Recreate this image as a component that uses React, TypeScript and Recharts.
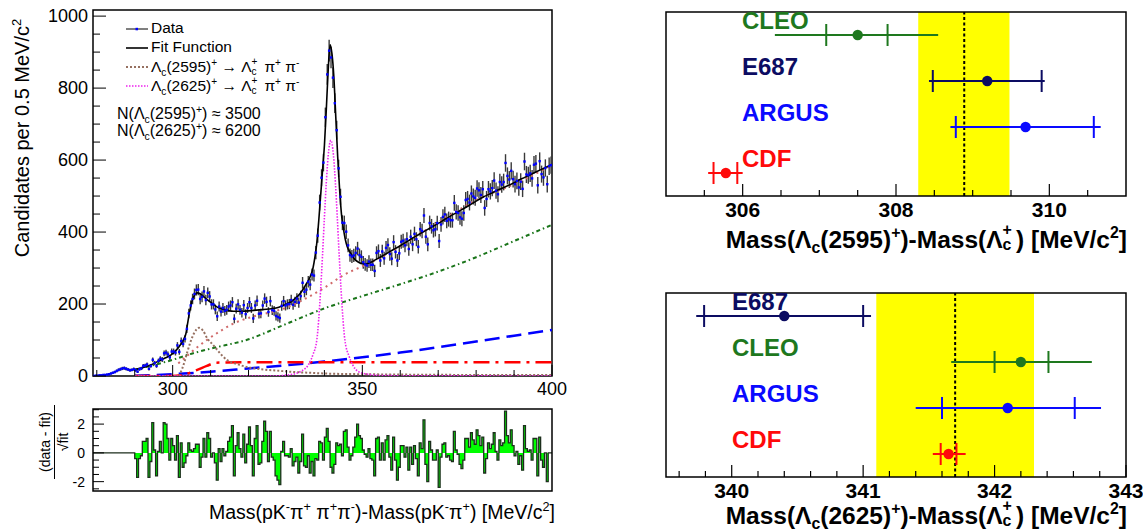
import React from 'react';
import {
  ComposedChart,
  Scatter,
  Line,
  Area,
  XAxis,
  YAxis,
  ErrorBar,
  ReferenceArea,
  ReferenceLine,
} from 'recharts';

const FONT = '"Liberation Sans", Arial, Helvetica, sans-serif';

// histogram binning of the mass difference spectrum
const BIN_START = 279;
const BIN_WIDTH = 0.5;
const FIT_START = 290;

// candidates per bin below the fit range (279 - 290)
const lowCounts = [0, 1, 1, 2, 2, 3, 3, 4, 5, 7, 9, 11, 14, 17, 19, 21, 22, 20, 18, 16, 17, 19];

// candidates per bin inside the fit range (290 - 400)
const counts = [
  16, 12, 19, 21, 28, 29, 32, 20, 28, 45,
  36, 28, 42, 48, 46, 63, 65, 60, 52, 68,
  68, 65, 85, 67, 97, 89, 103, 131, 174, 196,
  214, 228, 239, 240, 214, 220, 235, 211, 231, 221,
  199, 199, 185, 166, 193, 179, 189, 181, 184, 193,
  196, 205, 159, 187, 199, 184, 176, 197, 172, 189,
  205, 189, 160, 196, 209, 173, 174, 196, 215, 206,
  178, 208, 183, 181, 167, 164, 161, 195, 208, 196,
  199, 200, 211, 198, 206, 215, 204, 222, 259, 234,
  240, 262, 254, 282, 279, 343, 390, 482, 551, 593,
  719, 838, 904, 885, 829, 758, 683, 577, 498, 426,
  425, 401, 363, 336, 332, 335, 342, 354, 336, 331,
  316, 310, 307, 318, 309, 309, 292, 342, 347, 321,
  346, 327, 356, 364, 339, 326, 372, 345, 321, 341,
  373, 376, 363, 380, 353, 387, 366, 395, 380, 359,
  408, 403, 446, 387, 366, 425, 416, 405, 408, 425,
  375, 421, 442, 449, 431, 436, 433, 433, 481, 456,
  453, 441, 437, 453, 489, 492, 482, 507, 499, 495,
  521, 516, 503, 519, 467, 492, 519, 513, 522, 543,
  515, 505, 539, 532, 539, 592, 556, 546, 570, 547,
  533, 542, 524, 540, 520, 596, 560, 558, 563, 549,
  587, 590, 530, 597, 561, 552, 578, 533, 583, 586,
];

// (data - fit) / sqrt(fit) per bin, 290 - 400
const residuals = [
  -0.4, -1.7, -0.4, -0.2, 0.8, 0.8, 1.0, -1.7, -0.6, 2.1,
  0.2, -1.6, 0.1, 0.8, 0, 2.1, 2.0, 1.0, -0.5, 1.0,
  0.5, -0.5, 1.2, -1.7, 0.7, -1.0, -0.7, -0.2, 0.7, 0.2,
  0.1, 0.3, 0.6, 0.6, -1.0, -0.3, 1.0, -0.3, 1.4, 1.0,
  -0.3, 0, -0.7, -1.9, 0.3, -0.6, 0.3, -0.2, 0.1, 0.8,
  1.1, 1.9, -1.6, 0.5, 1.4, 0.3, -0.3, 1.3, -0.7, 0.6,
  1.8, 0.5, -1.6, 1.0, 1.9, -0.8, -0.7, 0.8, 2.2, 1.5,
  -0.6, 1.5, -0.3, -0.5, -1.6, -1.9, -2.2, 0.1, 0.8, -0.2,
  -0.2, -0.3, 0.3, -0.9, -0.6, -0.3, -1.4, -0.6, 1.3, -0.9,
  -1.0, -0.2, -1.4, -0.6, -1.6, -0.4, -0.5, 0.8, 0.7, -0.5,
  1.1, 1.7, 0.8, -1.0, -1.4, -0.8, 0.7, 0.5, 0.6, -0.2,
  1.5, 1.6, 0.4, -0.5, -0.2, 0.4, 1.1, 2.0, 1.2, 1.0,
  0.2, -0.1, -0.3, 0.3, -0.4, -0.5, -1.6, 1.0, 1.1, -0.5,
  0.7, -0.5, 0.9, 1.2, -0.3, -1.2, 1.1, -0.5, -1.9, -1.0,
  0.5, 0.5, -0.3, 0.4, -1.2, 0.4, -0.8, 0.5, -0.4, -1.6,
  0.7, 0.3, 2.3, -0.8, -2.0, 0.8, 0.2, -0.5, -0.5, 0.2,
  -2.4, -0.3, 0.6, 0.7, -0.3, -0.2, -0.5, -0.6, 1.5, 0.2,
  -0.1, -0.8, -1.1, -0.5, 1.0, 1.0, 0.4, 1.4, 0.9, 0.6,
  1.6, 1.2, 0.5, 1.1, -1.4, -0.4, 0.7, 0.3, 0.6, 1.4,
  0.1, -0.5, 0.9, 0.5, 0.7, 2.9, 1.2, 0.7, 1.6, 0.5,
  -0.2, 0.1, -0.8, -0.2, -1.2, 1.9, 0.3, 0.1, 0.2, -0.5,
  1.0, 1.0, -1.6, 1.1, -0.5, -1.0, 0.0, -2.0, 0.0, 0.0,
];

// fit function and its components
const fitX = [290, 292, 294, 296, 298, 299.5, 301, 302, 303, 303.5, 304, 304.5, 305, 305.5, 306, 306.5, 307, 307.5, 308, 309, 310, 311, 312, 313, 314, 315, 316, 318, 320, 322, 324, 326, 328, 330, 331, 332, 333, 334, 335, 336, 337, 337.5, 338, 338.5, 339, 339.5, 340, 340.5, 341, 341.5, 342, 342.5, 343, 343.5, 344, 344.5, 345, 345.5, 346, 347, 348, 349, 350, 351, 352, 353, 354, 355, 356, 358, 360, 362, 364, 366, 368, 370, 372, 374, 376, 378, 380, 382, 384, 386, 388, 390, 392, 394, 396, 398, 400];
const fitY = [18, 23, 30, 40, 50, 58, 72, 86, 104, 118, 150, 180, 205, 220, 228, 231, 230, 227, 222, 213, 205, 197, 190, 186, 183, 181, 180, 180, 181, 183, 185, 187, 191, 200, 205, 213, 222, 235, 252, 270, 300, 330, 370, 430, 500, 570, 640, 740, 850, 920, 895, 830, 720, 610, 520, 450, 410, 380, 360, 340, 324, 316, 312, 312, 315, 320, 326, 332, 338, 350, 362, 375, 388, 400, 412, 424, 437, 449, 461, 473, 486, 498, 508, 518, 527, 537, 548, 558, 568, 578, 588];

const lc2595X = [290, 301.5, 302.5, 303.9, 304.7, 305.6, 306.9, 308, 309.1, 310.5, 311.8, 313, 314.4, 317, 320, 323, 327.5, 332, 336, 340, 350, 360, 380, 400];
const lc2595Y = [0, 0, 20, 68, 95, 118, 134, 126, 105, 88, 72, 57, 44, 33, 24, 19, 15, 11, 9, 7, 5, 4, 3, 3];

const lc2625X = [290, 326, 331, 334, 336, 337, 338, 339, 339.5, 340, 340.5, 341, 341.7, 342.4, 342.9, 343.4, 343.9, 344.4, 345.4, 346.5, 347.5, 349, 352, 356, 400];
const lc2625Y = [0, 0, 4, 14, 35, 60, 100, 238, 335, 440, 537, 612, 655, 612, 537, 440, 335, 238, 100, 55, 30, 12, 4, 1, 0];

const bkgX = [301.5, 304, 309, 312.6, 315.3, 320.5, 325, 330, 335, 340, 345, 350, 355, 363.5, 372, 381, 390, 400];
const bkgY = [35, 58, 100, 125, 142, 163, 175, 190, 215, 245, 280, 305, 330, 384, 440, 494, 533, 586];

const greenX = [290, 300, 305, 310, 320, 330, 340, 350, 360, 370, 380, 390, 400];
const greenY = [17, 45, 62, 76, 102, 145, 188, 222, 255, 290, 330, 375, 420];

const blueX = [290, 300, 310, 320, 330, 340, 350, 360, 370, 380, 390, 400];
const blueY = [1, 5, 12, 21, 30, 40, 52, 65, 80, 96, 112, 128];

const redX = [290, 300, 302, 304, 306.5, 309, 311.5, 320, 340, 360, 380, 400];
const redY = [0, 0, 2, 7, 17, 28, 37, 38, 38, 38, 38, 38];

// tick positions
const mainXTicks = [280, 290, 300, 310, 320, 330, 340, 350, 360, 370, 380, 390, 400];
const mainXMajor = [300, 350, 400];
const mainYTicks = [0, 50, 100, 150, 200, 250, 300, 350, 400, 450, 500, 550, 600, 650, 700, 750, 800, 850, 900, 950, 1000];
const residTicks = [-2.5, -2, -1.5, -1, -0.5, 0, 0.5, 1, 1.5, 2, 2.5, 3];
const topTicks = [305.5, 306, 306.5, 307, 307.5, 308, 308.5, 309, 309.5, 310, 310.5];
const topMajor = [306, 308, 310];
const botTicks = [339.6, 339.8, 340, 340.2, 340.4, 340.6, 340.8, 341, 341.2, 341.4, 341.6, 341.8, 342, 342.2, 342.4, 342.6, 342.8, 343];
const botMajor = [340, 341, 342, 343];

// mass measurements: value, total error [low, high], stat error [low, high]
const exp2595 = ['CLEO', 'E687', 'ARGUS', 'CDF'];
const val2595 = [307.5, 309.19, 309.69, 305.78];
const tot2595 = [[1.08, 1.05], [0.76, 0.75], [0.98, 0.98], [0.23, 0.22]];
const stat2595 = [[0.41, 0.39], [0.71, 0.71], [0.91, 0.89], [0.16, 0.15]];
const row2595 = [3.5, 2.5, 1.5, 0.5];
const avg2595 = 308.89;
const band2595 = [308.29, 309.48];

const exp2625 = ['E687', 'CLEO', 'ARGUS', 'CDF'];
const val2625 = [340.4, 342.2, 342.1, 341.65];
const tot2625 = [[0.67, 0.66], [0.53, 0.54], [0.7, 0.71], [0.12, 0.13]];
const stat2625 = [[0.61, 0.6], [0.2, 0.21], [0.5, 0.51], [0.06, 0.06]];
const row2625 = [3.5, 2.5, 1.5, 0.5];
const avg2625 = 341.7;
const band2625 = [341.1, 342.3];

const expColors: Record<string, string> = {
  CLEO: '#1e781e',
  E687: '#0c0c62',
  ARGUS: '#0a0aff',
  CDF: '#ff0a0a',
};

const dataPts = [...lowCounts, ...counts].map((n, i) => ({
  x: BIN_START + BIN_WIDTH * (i + 0.5),
  y: n,
  err: Math.sqrt(n),
}));
const residPts = [
  { x: BIN_START, y: 0 },
  ...residuals.map((r, i) => ({ x: FIT_START + BIN_WIDTH * i, y: r })),
  { x: 400, y: residuals[residuals.length - 1] },
];
const pairs = (xs: number[], ys: number[]) => xs.map((x, i) => ({ x, y: ys[i] }));

const sup: React.CSSProperties = { fontSize: '0.65em', verticalAlign: '0.6em', lineHeight: 0 };
const sub: React.CSSProperties = { fontSize: '0.65em', verticalAlign: '-0.35em', lineHeight: 0 };

function SubSup({ lo, hi }: { lo: string; hi: string }) {
  return (
    <span style={{ display: 'inline-block', position: 'relative', width: '0.55em', height: '1em' }}>
      <span style={{ position: 'absolute', left: 0, top: '-0.35em', fontSize: '0.65em' }}>{hi}</span>
      <span style={{ position: 'absolute', left: 0, top: '0.55em', fontSize: '0.65em' }}>{lo}</span>
    </span>
  );
}

function MainXTick(p: any) {
  const v = p.payload.value;
  const major = mainXMajor.includes(v);
  return (
    <g>
      <line x1={p.x} x2={p.x} y1={376} y2={376 - (major ? 11 : 6)} stroke="#000" />
      {major && (
        <text x={p.x} y={395} textAnchor="middle" fontSize={18} fontFamily={FONT} fill="#000">
          {v}
        </text>
      )}
    </g>
  );
}

function MainYTick(p: any) {
  const v = p.payload.value;
  const major = v % 200 === 0;
  return (
    <g>
      <line x1={93} x2={93 + (major ? 13 : 7)} y1={p.y} y2={p.y} stroke="#000" />
      {major && (
        <text x={88} y={p.y + 6} textAnchor="end" fontSize={18} fontFamily={FONT} fill="#000">
          {v}
        </text>
      )}
    </g>
  );
}

function ResidYTick(p: any) {
  const v = p.payload.value;
  const major = v === -2 || v === 0 || v === 2;
  return (
    <g>
      <line x1={93} x2={93 + (major ? 11 : 6)} y1={p.y} y2={p.y} stroke="#000" />
      {major && (
        <text x={85} y={p.y + 5} textAnchor="end" fontSize={14} fontFamily={FONT} fill="#000">
          {v}
        </text>
      )}
    </g>
  );
}

function makeRightTick(majors: number[], bottom: number) {
  return function RightTick(p: any) {
    const v = p.payload.value;
    const major = majors.some((m) => Math.abs(m - v) < 1e-6);
    return (
      <g>
        <line x1={p.x} x2={p.x} y1={bottom} y2={bottom - (major ? 12 : 6)} stroke="#000" strokeWidth={1.2} />
        {major && (
          <text x={p.x} y={bottom + 21} textAnchor="middle" fontSize={21} fontWeight="bold" fontFamily={FONT} fill="#000">
            {v}
          </text>
        )}
      </g>
    );
  };
}

function MassPanel(props: {
  top: number;
  domain: [number, number];
  ticks: number[];
  majors: number[];
  names: string[];
  vals: number[];
  tot: number[][];
  stat: number[][];
  rows: number[];
  avg: number;
  band: number[];
  labelLeft: number;
}) {
  const { top, domain, ticks, majors, names, vals, tot, stat, rows, avg, band, labelLeft } = props;
  const plotTop = 12;
  const plotBottom = 196;
  const Tick = makeRightTick(majors, plotBottom);
  return (
    <div style={{ position: 'absolute', left: 600, top }}>
      <ComposedChart width={543} height={250} margin={{ top: plotTop, right: 17, bottom: 24, left: 66 }}>
        <XAxis
          type="number"
          dataKey="x"
          domain={domain}
          ticks={ticks}
          interval={0}
          tick={(p: any) => <Tick {...p} />}
          tickLine={false}
          axisLine={false}
          height={30}
          allowDataOverflow
        />
        <YAxis type="number" dataKey="y" domain={[0, 4]} hide allowDataOverflow />
        <ReferenceArea x1={band[0]} x2={band[1]} y1={0} y2={4} fill="#ffff00" fillOpacity={1} stroke="none" />
        <ReferenceLine x={avg} stroke="#000" strokeWidth={2} strokeDasharray="3 2.5" />
        {names.map((n, i) => (
          <Scatter
            key={n}
            data={[{ x: vals[i], y: rows[i], tot: tot[i], stat: stat[i] }]}
            isAnimationActive={false}
            shape={(s: any) => <circle cx={s.cx} cy={s.cy} r={5.2} fill={expColors[n]} />}
          >
            <ErrorBar dataKey="tot" direction="x" width={0} stroke={expColors[n]} strokeWidth={2} />
            <ErrorBar dataKey="stat" direction="x" width={11} stroke={expColors[n]} strokeWidth={2} />
          </Scatter>
        ))}
        <ReferenceArea x1={domain[0]} x2={domain[1]} y1={0} y2={4} fill="none" stroke="#000" strokeWidth={1.5} />
      </ComposedChart>
      {names.map((n, i) => (
        <div
          key={n}
          style={{
            position: 'absolute',
            left: labelLeft,
            top: plotTop + (plotBottom - plotTop) * ((4 - rows[i]) / 4) - 27,
            fontSize: 24,
            lineHeight: '26px',
            fontWeight: 'bold',
            color: expColors[n],
            fontFamily: FONT,
          }}
        >
          {n}
        </div>
      ))}
    </div>
  );
}

function LegendLine({ color, width, dash, dot }: { color: string; width: number; dash?: string; dot?: boolean }) {
  return (
    <svg width={24} height={10} style={{ position: 'absolute', left: 0, top: 6 }}>
      <line x1={1} x2={23} y1={5} y2={5} stroke={color} strokeWidth={width} strokeDasharray={dash} />
      {dot && <rect x={10.5} y={3.8} width={2.5} height={2.5} fill="#0000ff" />}
    </svg>
  );
}

export default function App() {
  const legendRow = (top: number, sample: React.ReactNode, text: React.ReactNode) => (
    <div style={{ position: 'absolute', left: 125, top, height: 20, fontSize: 15.5, lineHeight: '20px' }}>
      {sample}
      <span style={{ position: 'absolute', left: 26, top: 0, whiteSpace: 'nowrap' }}>{text}</span>
    </div>
  );

  return (
    <div
      style={{
        position: 'absolute',
        left: 0,
        top: 0,
        width: 1143,
        height: 531,
        background: '#fff',
        fontFamily: FONT,
        color: '#000',
        overflow: 'hidden',
      }}
    >
      {/* main spectrum */}
      <div style={{ position: 'absolute', left: 0, top: 0 }}>
        <ComposedChart width={580} height={400} margin={{ top: 10, right: 28, bottom: 0, left: 0 }}>
          <XAxis
            type="number"
            dataKey="x"
            domain={[279, 400]}
            ticks={mainXTicks}
            interval={0}
            tick={(p: any) => <MainXTick {...p} />}
            tickLine={false}
            axisLine={false}
            height={24}
            allowDataOverflow
          />
          <YAxis
            type="number"
            dataKey="y"
            domain={[0, 1017]}
            ticks={mainYTicks}
            interval={0}
            tick={(p: any) => <MainYTick {...p} />}
            tickLine={false}
            axisLine={false}
            width={93}
            allowDataOverflow
          />
          <Scatter
            data={dataPts}
            isAnimationActive={false}
            shape={(s: any) => <rect x={s.cx - 1.2} y={s.cy - 1.2} width={2.4} height={2.4} fill="#0000ff" />}
          >
            <ErrorBar dataKey="err" direction="y" width={0} stroke="#3a3a3a" strokeWidth={1.4} />
          </Scatter>
          <Line data={pairs(blueX, blueY)} dataKey="y" type="monotone" stroke="#0000ff" strokeWidth={2.5} strokeDasharray="15 7" dot={false} isAnimationActive={false} />
          <Line data={pairs(redX, redY)} dataKey="y" type="monotone" stroke="#ff0000" strokeWidth={2.5} strokeDasharray="16 6 3 6" dot={false} isAnimationActive={false} />
          <Line data={pairs(greenX, greenY)} dataKey="y" type="monotone" stroke="#1a751a" strokeWidth={2} strokeDasharray="4 3 1.5 3" dot={false} isAnimationActive={false} />
          <Line data={pairs(bkgX, bkgY)} dataKey="y" type="monotone" stroke="#d06a6a" strokeWidth={2} strokeDasharray="2 4" dot={false} isAnimationActive={false} />
          <Line data={pairs(lc2595X, lc2595Y)} dataKey="y" type="monotone" stroke="#967060" strokeWidth={2} strokeDasharray="2 2" dot={false} isAnimationActive={false} />
          <Line data={pairs(lc2625X, lc2625Y)} dataKey="y" type="monotone" stroke="#ee22ee" strokeWidth={1.6} strokeDasharray="1.5 1.5" dot={false} isAnimationActive={false} />
          <Line data={pairs(fitX, fitY)} dataKey="y" type="monotone" stroke="#000" strokeWidth={1.6} dot={false} isAnimationActive={false} />
          <ReferenceArea x1={279} x2={400} y1={0} y2={1017} fill="none" stroke="#000" strokeWidth={1.5} />
        </ComposedChart>
      </div>

      {/* residuals */}
      <div style={{ position: 'absolute', left: 0, top: 400 }}>
        <ComposedChart width={580} height={100} margin={{ top: 9, right: 28, bottom: 9, left: 0 }}>
          <XAxis type="number" dataKey="x" domain={[279, 400]} hide allowDataOverflow />
          <YAxis
            type="number"
            dataKey="y"
            domain={[-2.65, 3.05]}
            ticks={residTicks}
            interval={0}
            tick={(p: any) => <ResidYTick {...p} />}
            tickLine={false}
            axisLine={false}
            width={93}
            allowDataOverflow
          />
          <Area
            data={residPts}
            dataKey="y"
            type="stepAfter"
            baseValue={0}
            fill="#00ff00"
            fillOpacity={1}
            stroke="#1c2e1c"
            strokeWidth={1.3}
            dot={false}
            activeDot={false}
            isAnimationActive={false}
          />
          <ReferenceArea x1={279} x2={400} y1={-2.65} y2={3.05} fill="none" stroke="#000" strokeWidth={1.5} />
        </ComposedChart>
      </div>

      {/* legend of the spectrum */}
      {legendRow(18, <LegendLine color="#000" width={1} dot />, 'Data')}
      {legendRow(37, <LegendLine color="#000" width={1.6} />, 'Fit Function')}
      {legendRow(56, <LegendLine color="#967060" width={2} dash="2 2" />, (
        <span>
          Λ<span style={sub}>c</span>(2595)<span style={sup}>+</span> → Λ<SubSup lo="c" hi="+" /> π<span style={sup}>+</span> π<span style={sup}>-</span>
        </span>
      ))}
      {legendRow(75, <LegendLine color="#ee22ee" width={1.6} dash="1.5 1.5" />, (
        <span>
          Λ<span style={sub}>c</span>(2625)<span style={sup}>+</span> → Λ<SubSup lo="c" hi="+" /> π<span style={sup}>+</span> π<span style={sup}>-</span>
        </span>
      ))}
      <div style={{ position: 'absolute', left: 117, top: 105, fontSize: 16, lineHeight: '17px', whiteSpace: 'nowrap' }}>
        <div>
          N(Λ<span style={sub}>c</span>(2595)<span style={sup}>+</span>) ≈ 3500
        </div>
        <div>
          N(Λ<span style={sub}>c</span>(2625)<span style={sup}>+</span>) ≈ 6200
        </div>
      </div>

      {/* axis titles of the spectrum */}
      <div
        style={{
          position: 'absolute',
          left: 22 - 150,
          top: 138 - 12,
          width: 300,
          height: 24,
          lineHeight: '24px',
          fontSize: 20,
          textAlign: 'center',
          transform: 'rotate(-90deg)',
          whiteSpace: 'nowrap',
        }}
      >
        Candidates per 0.5 MeV/c<span style={sup}>2</span>
      </div>
      <div
        style={{
          position: 'absolute',
          left: 56 - 40,
          top: 442 - 19,
          width: 80,
          height: 38,
          fontSize: 14,
          transform: 'rotate(-90deg)',
          display: 'flex',
          flexDirection: 'column',
          alignItems: 'center',
        }}
      >
        <div style={{ lineHeight: '17px', whiteSpace: 'nowrap' }}>(data - fit)</div>
        <div style={{ width: 74, borderTop: '1px solid #000' }} />
        <div style={{ lineHeight: '17px', whiteSpace: 'nowrap' }}>
          √<span style={{ borderTop: '1px solid #000' }}>fit</span>
        </div>
      </div>
      <div
        style={{
          position: 'absolute',
          left: 100,
          top: 500,
          width: 455,
          textAlign: 'right',
          fontSize: 19.5,
          lineHeight: '24px',
          whiteSpace: 'nowrap',
        }}
      >
        Mass(pK<span style={sup}>-</span>π<span style={sup}>+</span> π<span style={sup}>+</span>π<span style={sup}>-</span>)-Mass(pK<span style={sup}>-</span>π<span style={sup}>+</span>) [MeV/c<span style={sup}>2</span>]
      </div>

      {/* mass comparison panels */}
      <MassPanel
        top={0}
        domain={[305, 311]}
        ticks={topTicks}
        majors={topMajor}
        names={exp2595}
        vals={val2595}
        tot={tot2595}
        stat={stat2595}
        rows={row2595}
        avg={avg2595}
        band={band2595}
        labelLeft={142}
      />
      <MassPanel
        top={281}
        domain={[339.5, 343]}
        ticks={botTicks}
        majors={botMajor}
        names={exp2625}
        vals={val2625}
        tot={tot2625}
        stat={stat2625}
        rows={row2625}
        avg={avg2625}
        band={band2625}
        labelLeft={132}
      />
      <div
        style={{
          position: 'absolute',
          left: 620,
          top: 223,
          width: 507,
          textAlign: 'right',
          fontSize: 24.5,
          fontWeight: 'bold',
          lineHeight: '26px',
          whiteSpace: 'nowrap',
        }}
      >
        Mass(Λ<span style={sub}>c</span>(2595)<span style={sup}>+</span>)-Mass(Λ<SubSup lo="c" hi="+" />) [MeV/c<span style={sup}>2</span>]
      </div>
      <div
        style={{
          position: 'absolute',
          left: 620,
          top: 499,
          width: 507,
          textAlign: 'right',
          fontSize: 24.5,
          fontWeight: 'bold',
          lineHeight: '26px',
          whiteSpace: 'nowrap',
        }}
      >
        Mass(Λ<span style={sub}>c</span>(2625)<span style={sup}>+</span>)-Mass(Λ<SubSup lo="c" hi="+" />) [MeV/c<span style={sup}>2</span>]
      </div>
    </div>
  );
}
